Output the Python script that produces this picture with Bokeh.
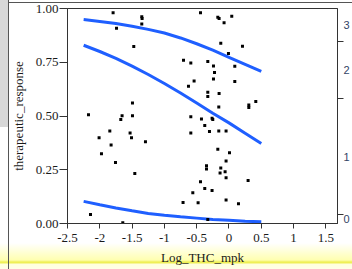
from bokeh.plotting import figure
from bokeh.models import FixedTicker, LinearAxis, Range1d
from bokeh.embed import file_html
from bokeh.resources import INLINE

# ---- data ----
log_thc = [-1.794, -1.350, -1.345, -1.350, -1.741, -1.474, -1.494, -2.175, -1.655, -1.494,
           -1.675, -1.845, -1.531, -2.011, -1.509, -1.293, -1.825, -1.974, -1.757, -1.458,
           -2.144, -1.644,
           -0.441, -0.173, -0.153, 0.043, -0.076, -0.127, 0.209, -0.008, -0.704, -0.591,
           -0.328, -0.240, 0.090, -0.224, -0.240, -0.540, 0.090, -0.627, -0.328, -0.328,
           -0.153, -0.158, 0.307, 0.307, 0.415, -0.591, -0.426, -0.262, -0.251, -0.375,
           -0.302, -0.158, -0.045, -0.591, -0.173, 0.008, -0.045, -0.348, -0.348, -0.127,
           -0.060, -0.138, -0.045, 0.296, -0.441, -0.375, -0.262, -0.560, -0.711, -0.478,
           -0.045, 0.147, -0.328]
response = [0.980, 0.962, 0.954, 0.928, 0.908, 0.823, 0.561, 0.506, 0.501, 0.501,
            0.484, 0.430, 0.421, 0.399, 0.399, 0.380, 0.365, 0.324, 0.284, 0.233,
            0.042, 0.003,
            0.980, 0.959, 0.953, 0.964, 0.934, 0.838, 0.824, 0.791, 0.759, 0.747,
            0.753, 0.733, 0.731, 0.702, 0.672, 0.663, 0.661, 0.638, 0.610, 0.591,
            0.605, 0.542, 0.551, 0.540, 0.567, 0.497, 0.486, 0.489, 0.484, 0.456,
            0.428, 0.430, 0.430, 0.421, 0.345, 0.329, 0.291, 0.269, 0.253, 0.258,
            0.241, 0.235, 0.213, 0.200, 0.194, 0.163, 0.154, 0.143, 0.098, 0.096,
            0.109, 0.092, 0.019]

curve_x = [-2.25, -2.0, -1.75, -1.5, -1.25, -1.0, -0.75, -0.5, -0.25, 0.0, 0.25, 0.5]
upper_curve = [0.949, 0.940, 0.930, 0.917, 0.903, 0.886, 0.863, 0.836, 0.806, 0.773, 0.740, 0.707]
middle_curve = [0.829, 0.800, 0.768, 0.732, 0.693, 0.651, 0.607, 0.560, 0.513, 0.468, 0.420, 0.372]
lower_curve = [0.103, 0.087, 0.072, 0.059, 0.047, 0.038, 0.031, 0.025, 0.019, 0.015, 0.011, 0.008]

x_ticks = [-2.5, -2, -1.5, -1, -0.5, 0, 0.5, 1, 1.5]
x_tick_labels = ["-2.5", "-2", "-1.5", "-1", "-0.5", "0", "0.5", "1", "1.5"]
y_ticks = [0, 0.25, 0.5, 0.75, 1]
y_tick_labels = ["0.00", "0.25", "0.50", "0.75", "1.00"]
level_labels = ["0", "1", "2", "3"]
level_cum = [0.0, 0.041, 0.581, 0.846, 1.0]

SERIF = "Liberation Serif"
TXT = "#1a1a1a"
LINE_BLUE = "#1F5FFF"

p = figure(width=352, height=269,
           x_range=Range1d(-2.5, 1.68), y_range=Range1d(0, 1),
           output_backend="svg", toolbar_location=None,
           min_border_left=67, min_border_right=15, min_border_top=8, min_border_bottom=46,
           background_fill_color="white", border_fill_color=None,
           outline_line_color="#333333", outline_line_width=1)
# window decoration behind the chart (grey side panel, frame lines, yellow status band)
p.styles = {
    "background": (
        "linear-gradient(#555555,#555555) 8px 0px / 1px 100% no-repeat, "
        "linear-gradient(#555555,#555555) 8px 2px / 100% 1px no-repeat, "
        "linear-gradient(#d8d8d8,#d8d8d8) 0px 0px / 8px 127px no-repeat, "
        "linear-gradient(to bottom, #ffffff 0px, #ffffff 243px, #ffffb0 260px, "
        "#efef55 262px, #efef55 263px, #ffffdc 264px, #ffffe6 269px)"
    )
}
p.xgrid.visible = False
p.ygrid.visible = False

for ax, ticks, labels in ((p.xaxis[0], x_ticks, x_tick_labels), (p.yaxis[0], y_ticks, y_tick_labels)):
    ax.ticker = FixedTicker(ticks=ticks)
    ax.major_label_overrides = dict(zip(ticks, labels))
    ax.major_tick_in = 0
    ax.minor_tick_in = 0
    ax.minor_tick_out = 0
    ax.axis_line_color = "#333333"
    ax.major_tick_line_color = "#333333"
    ax.major_label_text_font = SERIF
    ax.major_label_text_font_size = "13px"
    ax.major_label_text_color = TXT
    ax.axis_label_text_font = SERIF
    ax.axis_label_text_font_size = "13px"
    ax.axis_label_text_font_style = "normal"
    ax.axis_label_text_color = TXT

p.xaxis.axis_label = "Log_THC_mpk"
p.xaxis.major_tick_out = 5
p.xaxis.major_label_standoff = 5
p.xaxis.axis_label_standoff = 5
p.yaxis.axis_label = "therapeutic_response"
p.yaxis.major_tick_out = 8
p.yaxis.major_label_standoff = 1
p.yaxis.axis_label_standoff = 7

# right axis: tick marks at level boundaries, labels at level mid-bands
bounds = level_cum[1:-1]
r1 = LinearAxis(ticker=FixedTicker(ticks=bounds),
                major_label_overrides={b: "" for b in bounds},
                major_label_text_font_size="1px", major_label_standoff=0,
                major_tick_out=6, major_tick_in=0, minor_tick_out=0, minor_tick_in=0,
                axis_line_color="#333333", major_tick_line_color="#333333")
mids = [(level_cum[i] + level_cum[i + 1]) / 2 for i in range(len(level_labels))]
r2 = LinearAxis(ticker=FixedTicker(ticks=mids),
                major_label_overrides=dict(zip(mids, level_labels)),
                major_label_text_font="Liberation Sans", major_label_text_font_size="11px",
                major_label_text_color="#334466", major_label_standoff=0,
                major_tick_out=0, major_tick_in=0, minor_tick_out=0, minor_tick_in=0,
                axis_line_color=None)
p.add_layout(r1, "right")
p.add_layout(r2, "right")

p.line(curve_x, upper_curve, line_width=3, color=LINE_BLUE)
p.line(curve_x, middle_curve, line_width=3, color=LINE_BLUE)
p.line(curve_x, lower_curve, line_width=3, color=LINE_BLUE)

p.scatter(log_thc, response, marker="square", size=3, fill_color="black", line_color=None)

open("out.html", "w").write(file_html(p, INLINE))
